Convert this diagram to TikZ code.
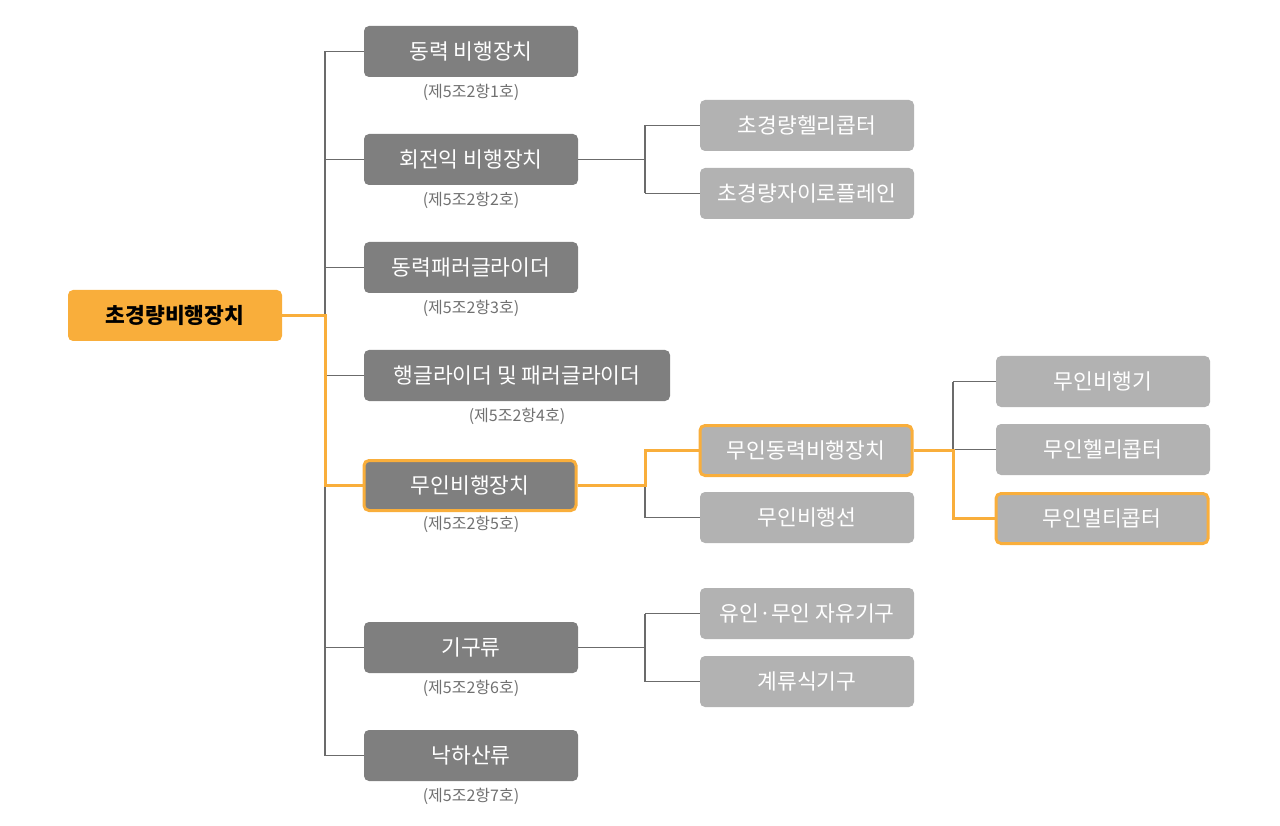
\documentclass[tikz,border=0pt]{standalone}
\usepackage{fontspec}
\setmainfont{Noto Sans CJK KR}
\definecolor{orng}{HTML}{F9AE3B}
\definecolor{dgray}{HTML}{7F7F7F}
\definecolor{lgray}{HTML}{B2B2B2}
\definecolor{lnc}{HTML}{6B6B6B}
\definecolor{capc}{HTML}{707070}
\begin{document}
\begin{tikzpicture}[x=1pt,y=-1pt,
  box/.style={rounded corners=5pt, minimum height=51pt, minimum width=214pt, inner sep=0pt, text=white, font=\fontsize{21.5}{24}\selectfont},
  lone/.style={box, fill=dgray},
  ltwo/.style={box, fill=lgray},
  hl/.style={draw=orng, line width=3pt},
  rootbox/.style={box, fill=orng, text=black, font=\fontsize{21.5}{24}\selectfont\bfseries},
  captxt/.style={text=capc, font=\fontsize{16}{18}\selectfont, inner sep=0pt},
  gline/.style={draw=lnc, line width=1.4pt},
  oline/.style={draw=orng, line width=3pt}]
\useasboundingbox (0,0) rectangle (1280,826);
% root
\node[rootbox] (root) at (175,315.5) {초경량비행장치};
% level 1
\node[lone] (a1) at (471,51.5) {동력 비행장치};
\node[lone] (a2) at (471,159.5) {회전익 비행장치};
\node[lone] (a3) at (471,267.5) {동력패러글라이더};
\node[lone, minimum width=306pt] (a4) at (517,375.5) {행글라이더 및 패러글라이더};
\node[lone, hl, minimum width=212pt, minimum height=50pt] (a5) at (470,485.5) {무인비행장치};
\node[lone] (a6) at (471,647.5) {기구류};
\node[lone] (a7) at (471,755.5) {낙하산류};
% captions
\node[captxt] (c1) at (471,92) {(제5조2항1호)};
\node[captxt] (c2) at (471,200) {(제5조2항2호)};
\node[captxt] (c3) at (471,308) {(제5조2항3호)};
\node[captxt] (c4) at (517,416) {(제5조2항4호)};
\node[captxt] (c5) at (471,524) {(제5조2항5호)};
\node[captxt] (c6) at (471,688) {(제5조2항6호)};
\node[captxt] (c7) at (471,796) {(제5조2항7호)};
% level 2
\node[ltwo] (b1) at (807,125.5) {초경량헬리콥터};
\node[ltwo] (b2) at (807,193.5) {초경량자이로플레인};
\node[ltwo, hl, minimum width=212pt, minimum height=50pt] (b3) at (806,450.5) {무인동력비행장치};
\node[ltwo] (b4) at (807,517.5) {무인비행선};
\node[ltwo] (b5) at (807,613.5) {유인·무인 자유기구};
\node[ltwo] (b6) at (807,681.5) {계류식기구};
% level 3
\node[ltwo] (d1) at (1103,381.5) {무인비행기};
\node[ltwo] (d2) at (1103,449.5) {무인헬리콥터};
\node[ltwo, hl, minimum width=212pt, minimum height=50pt] (d3) at (1102,518.5) {무인멀티콥터};
% junction coordinates
\coordinate (t) at (325,0);
\coordinate (j2) at (645,0);
\coordinate (j3) at (953,0);
% trunk gray
\draw[gline] (t |- a1.west) -- (t |- a7.west);
\foreach \n in {a1,a2,a3,a4,a6,a7} \draw[gline] (t |- \n.west) -- (\n.west);
% level1 -> level2 gray
\draw[gline] (a2.east) -- (j2 |- a2.east);
\draw[gline] (j2 |- b1.west) -- (j2 |- b2.west);
\draw[gline] (j2 |- b1.west) -- (b1.west);
\draw[gline] (j2 |- b2.west) -- (b2.west);
\draw[gline] (a6.east) -- (j2 |- a6.east);
\draw[gline] (j2 |- b5.west) -- (j2 |- b6.west);
\draw[gline] (j2 |- b5.west) -- (b5.west);
\draw[gline] (j2 |- b6.west) -- (b6.west);
\draw[gline] (j2 |- a5.east) -- (j2 |- b4.west) -- (b4.west);
% level2 -> level3 gray
\draw[gline] (j3 |- d1.west) -- (j3 |- b3.east);
\draw[gline] (j3 |- d1.west) -- (d1.west);
\draw[gline] (j3 |- d2.west) -- (d2.west);
% orange path
\draw[oline] (root.east) -- (t |- root.east) -- (t |- a5.west) -- (a5.west);
\draw[oline] (a5.east) -- (j2 |- a5.east) -- (j2 |- b3.west) -- (b3.west);
\draw[oline] (b3.east) -- (j3 |- b3.east) -- (j3 |- d3.west) -- (d3.west);
\end{tikzpicture}
\end{document}
